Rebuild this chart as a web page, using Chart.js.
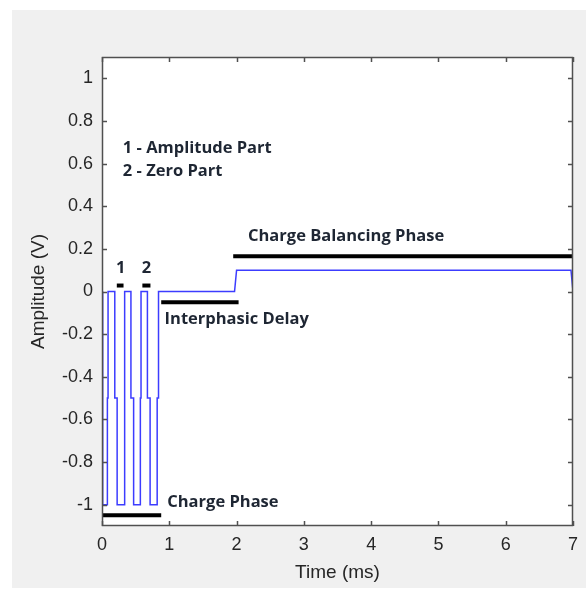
<!DOCTYPE html>
<html>
<head>
<meta charset="utf-8">
<script src="https://cdn.jsdelivr.net/npm/chart.js@4.4.1/dist/chart.umd.min.js"></script>
<style>
  html, body { margin: 0; padding: 0; background: #fff; }
  #wrap { width: 586px; height: 597px; }
</style>
</head>
<body>
<div id="wrap"><canvas id="pulseChart" width="586" height="597"></canvas></div>
<script>
// stimulation waveform (time in ms, amplitude in V)
const waveT = [0, 0.01, 0.01, 0.08, 0.08, 0.09, 0.09, 0.19, 0.19, 0.225, 0.225, 0.33, 0.33, 0.34, 0.34,
  0.43, 0.43, 0.47, 0.47, 0.57, 0.57, 0.58, 0.58, 0.675, 0.675, 0.715, 0.715, 0.82, 0.82, 0.84, 0.84,
  1.97, 2.0, 6.97, 7.0];
const waveV = [0, 0, -1, -1, -0.5, -0.5, 0, 0, -0.5, -0.5, -1, -1, -0.5, -0.5, 0,
  0, -0.5, -0.5, -1, -1, -0.5, -0.5, 0, 0, -0.5, -0.5, -1, -1, -0.5, -0.5, 0,
  0, 0.1, 0.1, 0.0];

// black marker bars
const barStart = [0.22, 0.60, 0.88, 1.95, 0.01];
const barEnd   = [0.32, 0.72, 2.03, 7.0, 0.88];
const barLevel = [0.028, 0.028, -0.05, 0.165, -1.05];

// annotations
const noteText = ['1', '2', '1 - Amplitude Part', '2 - Zero Part', 'Charge Balancing Phase', 'Interphasic Delay', 'Charge Phase'];
const noteX = [0.28, 0.66, 0.31, 0.31, 2.17, 0.93, 0.97];
const noteY = [0.11, 0.11, 0.67, 0.565, 0.26, -0.13, -0.99];
const noteAlign = ['center', 'center', 'left', 'left', 'left', 'left', 'left'];

const xTicks = [0, 1, 2, 3, 4, 5, 6, 7];
const yTicks = [-1, -0.8, -0.6, -0.4, -0.2, 0, 0.2, 0.4, 0.6, 0.8, 1];

const frameColor = '#505050';
const textColor = '#262626';

const datasets = [{
  data: waveT.map((t, i) => ({ x: t, y: waveV[i] })),
  borderColor: 'rgb(60,60,255)',
  borderWidth: 1.5,
  pointRadius: 0,
  tension: 0
}];
barStart.forEach((s, i) => {
  datasets.push({
    data: [{ x: s, y: barLevel[i] }, { x: barEnd[i], y: barLevel[i] }],
    borderColor: '#000',
    borderWidth: 4,
    pointRadius: 0
  });
});

const figure = {
  id: 'figure',
  beforeDraw(chart) {
    const { ctx, chartArea: a } = chart;
    ctx.save();
    ctx.fillStyle = '#f0f0f0';
    ctx.fillRect(12, 10, 574, 578);
    ctx.fillStyle = '#fff';
    ctx.fillRect(a.left, a.top, a.right - a.left, a.bottom - a.top);
    ctx.restore();
  },
  afterDraw(chart) {
    const { ctx, chartArea: a, scales } = chart;
    ctx.save();
    ctx.strokeStyle = frameColor;
    ctx.lineWidth = 1.5;
    ctx.strokeRect(a.left + 0.5, a.top + 0.5, a.right - a.left - 1, a.bottom - a.top - 1);
    ctx.beginPath();
    xTicks.forEach(v => {
      const px = Math.round(scales.x.getPixelForValue(v)) + 0.5;
      ctx.moveTo(px, a.bottom); ctx.lineTo(px, a.bottom - 5);
      ctx.moveTo(px, a.top); ctx.lineTo(px, a.top + 5);
    });
    yTicks.forEach(v => {
      const py = Math.round(scales.y.getPixelForValue(v)) + 0.5;
      ctx.moveTo(a.left, py); ctx.lineTo(a.left + 5, py);
      ctx.moveTo(a.right, py); ctx.lineTo(a.right - 5, py);
    });
    ctx.stroke();

    ctx.fillStyle = '#1e2633';
    ctx.font = 'bold 16.5px "Open Sans"';
    ctx.textBaseline = 'middle';
    noteText.forEach((txt, i) => {
      ctx.textAlign = noteAlign[i];
      ctx.fillText(txt, scales.x.getPixelForValue(noteX[i]), scales.y.getPixelForValue(noteY[i]));
    });
    ctx.restore();
  }
};

new Chart(document.getElementById('pulseChart'), {
  type: 'line',
  data: { datasets },
  options: {
    responsive: false,
    animation: false,
    layout: { padding: { top: 57, right: 7, left: 0, bottom: 0 } },
    plugins: { legend: { display: false }, tooltip: { enabled: false } },
    scales: {
      x: {
        type: 'linear', min: 0, max: 7,
        afterBuildTicks: s => { s.ticks = xTicks.map(v => ({ value: v })); },
        afterFit: s => { s.height = 71; },
        grid: { display: false, drawTicks: false },
        border: { display: false },
        ticks: { padding: 8, color: textColor, font: { family: 'Liberation Sans', size: 18 },
          callback: v => String(v) },
        title: { display: true, text: 'Time (ms)', color: textColor, padding: { top: 0, bottom: 13 },
          font: { family: 'Liberation Sans', size: 19 } }
      },
      y: {
        type: 'linear', min: -1.1, max: 1.1,
        afterBuildTicks: s => { s.ticks = yTicks.map(v => ({ value: v })); },
        afterFit: s => { s.width = 102; },
        grid: { display: false, drawTicks: false },
        border: { display: false },
        ticks: { padding: 9, color: textColor, font: { family: 'Liberation Sans', size: 18 },
          callback: v => String(v) },
        title: { display: true, text: 'Amplitude (V)', color: textColor, padding: { top: 27, bottom: 0 },
          font: { family: 'Liberation Sans', size: 19 } }
      }
    }
  },
  plugins: [figure]
});
</script>
</body>
</html>
